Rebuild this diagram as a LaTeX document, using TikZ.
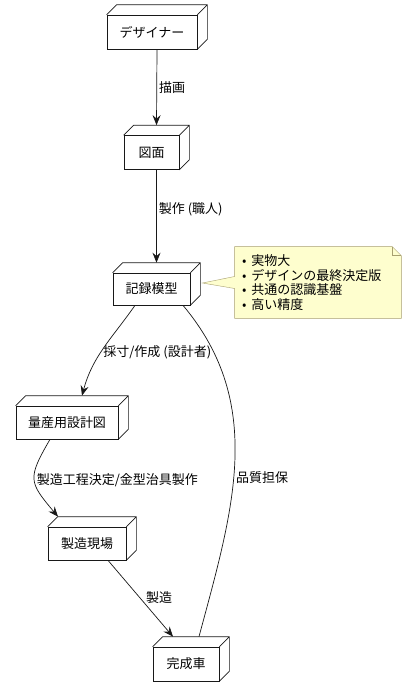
\documentclass[tikz,border=0pt]{standalone}
\usepackage{fontspec}
\setmainfont{Noto Sans CJK JP}
\usetikzlibrary{arrows.meta,backgrounds}

\definecolor{notefill}{HTML}{FEFECE}
\definecolor{noteline}{HTML}{A8A070}
\definecolor{boxline}{HTML}{181818}

\newcommand\notebul{•\hspace{5pt}}

\tikzset{
  box3d/.style={draw=boxline, fill=white, rectangle, minimum height=34pt, inner sep=0pt},
  flow/.style={draw=boxline, -{Stealth[length=10pt,width=8pt,inset=3.5pt]}},
  link/.style={draw=boxline},
  lbl/.style={inner sep=2pt}
}

\begin{document}
\begin{tikzpicture}[x=1pt, y=1pt, font=\fontsize{13}{15}\selectfont, line width=0.7pt]
  \useasboundingbox (0,0) rectangle (404,-697);

  % Boxes (front faces)
  \node[box3d, minimum width=90pt] (designer) at (152,-32) {デザイナー};
  \node[box3d, minimum width=55pt] (zumen) at (151.5,-152.5) {図面};
  \node[box3d, minimum width=77pt, minimum height=32pt] (model) at (151.5,-289) {記録模型};
  \node[box3d, minimum width=102pt, minimum height=33pt] (massdraw) at (67,-422.5) {量産用設計図};
  \node[box3d, minimum width=78pt, minimum height=33pt] (factory) at (87,-543.5) {製造現場};
  \node[box3d, minimum width=66pt] (car) at (186,-664) {完成車};

  % Depth of the boxes
  \foreach \n in {designer,zumen,model,massdraw,factory,car} {
    \draw[boxline] (\n.north west) -- ++(10,10) -| ([shift={(10,10)}]\n.south east) -- (\n.south east)
      (\n.north east) -- ++(10,10);
  }

  % Note
  \node[lbl, inner xsep=7pt, text width=152pt, minimum height=71pt, align=left,
        font=\fontsize{13}{14.7}\selectfont] (note) at (318,-282.5)
    {\notebul 実物大\\\notebul デザインの最終決定版\\\notebul 共通の認識基盤\\\notebul 高い精度};
  \begin{scope}[on background layer]
    \draw[noteline, fill=notefill] (note.north west) -- ([xshift=-9]note.north east)
      -- ([yshift=-9]note.north east) -- (note.south east) -- (note.south west)
      -- ([yshift=-6]note.west) -- ([shift={(12,6)}]model.east) -- ([yshift=6]note.west) -- cycle;
    \draw[noteline] ([xshift=-9]note.north east) |- ([yshift=-9]note.north east);
  \end{scope}

  % Connectors
  \draw[flow] ([xshift=5]designer.south) -- node[lbl, midway, right] {描画} ([shift={(5,10)}]zumen.north);
  \draw[flow] ([xshift=5]zumen.south) -- node[lbl, pos=0.42, right] {製作 (職人)} ([shift={(5,10)}]model.north);
  \draw[flow] ([xshift=-16.5]model.south) to[out=-125, in=75]
    node[lbl, pos=0.55, anchor=west] {採寸/作成 (設計者)} ([shift={(15,10)}]massdraw.north);
  \draw[link] ([xshift=31.5]model.south) to[out=-50, in=75]
    node[lbl, pos=0.55, anchor=west] {品質担保} ([shift={(13,10)}]car.north);
  \draw[flow] ([xshift=-17]massdraw.south) to[out=-120, in=130, looseness=1.5]
    node[lbl, pos=0.5, anchor=west] {製造工程決定/金型治具製作} ([shift={(-29,10)}]factory.north);
  \draw[flow] ([xshift=21]factory.south) --
    node[lbl, pos=0.49, anchor=west, xshift=4] {製造} ([shift={(-13,10)}]car.north);

\end{tikzpicture}
\end{document}
